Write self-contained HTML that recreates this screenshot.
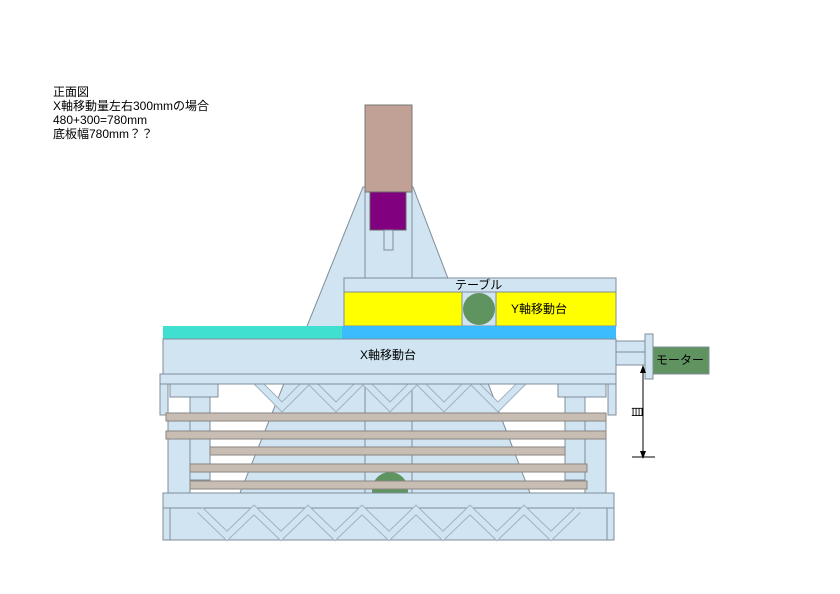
<!DOCTYPE html>
<html><head><meta charset="utf-8"><style>
body{margin:0;background:#fff;width:840px;height:594px;overflow:hidden}
svg{display:block}
text{font-family:"Liberation Sans","Noto Sans CJK JP",sans-serif;font-size:12px;fill:#000}
</style></head><body>
<svg width="840" height="594" viewBox="0 0 840 594">
<defs><clipPath id="c"><rect x="0" y="0" width="840" height="493"/></clipPath></defs>
<g stroke="#7f8c99" stroke-width="1">
<polygon points="363,187 413,187 530,493 240,493" fill="#d0e4f2"/>
<line x1="365" y1="190" x2="365" y2="493"/>
<line x1="412" y1="190" x2="412" y2="493"/>
<rect x="365" y="105" width="47" height="87" fill="#c1a196" stroke="#777"/>
<rect x="370" y="192" width="36" height="38" fill="#800080" stroke="#666"/>
<rect x="384" y="230" width="9" height="20" fill="#d0e4f2"/>
<rect x="344" y="278" width="272" height="14" fill="#d0e4f2"/>
<rect x="344" y="292" width="272" height="34" fill="#ffff00"/>
<rect x="462" y="292" width="34" height="34" fill="#d0e4f2"/>
<circle cx="479" cy="309" r="16" fill="#5f9460" stroke="none"/>
<rect x="163" y="326" width="179" height="13" fill="#40e0d0" stroke="none"/>
<rect x="342" y="326" width="274" height="13" fill="#3bbcff" stroke="none"/>
<rect x="163" y="339" width="453" height="35" fill="#d0e4f2"/>
<rect x="616" y="341" width="29" height="11" fill="#d0e4f2"/>
<rect x="616" y="352" width="29" height="13" fill="#d0e4f2"/>
<rect x="645" y="334" width="8" height="45" fill="#d0e4f2"/>
<rect x="653" y="347" width="56" height="27" fill="#5f9460"/>
<polyline points="255,380 282,407 309,380 336,407 363,380 390,407 417,380 444,407 471,380 498,407 525,380" fill="none" stroke="#9fb2c2" stroke-width="8"/>
<polyline points="255,380 282,407 309,380 336,407 363,380 390,407 417,380 444,407 471,380 498,407 525,380" fill="none" stroke="#d0e4f2" stroke-width="6"/>
<rect x="160" y="374" width="456" height="10" fill="#d0e4f2"/>
<rect x="160" y="384" width="8" height="31" fill="#d0e4f2"/>
<rect x="170" y="384" width="48" height="13" fill="#d0e4f2"/>
<rect x="558" y="384" width="48" height="13" fill="#d0e4f2"/>
<rect x="608" y="384" width="8" height="31" fill="#d0e4f2"/>
<circle cx="390" cy="490" r="18" fill="#5f9460" stroke="none" clip-path="url(#c)"/>
<rect x="168" y="415" width="22" height="78" fill="#d0e4f2"/>
<rect x="585" y="415" width="21" height="78" fill="#d0e4f2"/>
<rect x="190" y="397" width="20" height="83" fill="#d0e4f2"/>
<rect x="565" y="397" width="20" height="83" fill="#d0e4f2"/>
<g fill="#c8bdb3" stroke="#8a8580">
<rect x="166" y="413" width="440" height="8"/>
<rect x="166" y="431" width="440" height="8"/>
<rect x="210" y="447" width="355" height="8"/>
<rect x="190" y="464" width="397" height="8"/>
<rect x="190" y="481" width="397" height="8"/>
</g>
<rect x="163" y="493" width="451" height="15" fill="#d0e4f2"/>
<rect x="163" y="508" width="451" height="32" fill="#d0e4f2"/>
<rect x="170" y="508" width="437" height="32" fill="#d0e4f2"/>
<polyline points="200,510 227,536 254,510 281,536 308,510 335,536 362,510 389,536 416,510 443,536 470,510 497,536 524,510 551,536 578,510" fill="none" stroke="#9fb2c2" stroke-width="8"/>
<polyline points="200,510 227,536 254,510 281,536 308,510 335,536 362,510 389,536 416,510 443,536 470,510 497,536 524,510 551,536 578,510" fill="none" stroke="#d0e4f2" stroke-width="6"/>
</g>
<line x1="643" y1="368" x2="643" y2="457" stroke="#000"/>
<polygon points="643,365 640,373 646,373" fill="#000"/>
<polygon points="643,459 640,451 646,451" fill="#000"/>
<line x1="632" y1="457" x2="655" y2="457" stroke="#000"/>
<text x="630" y="415" transform="rotate(90 636 412)" font-size="10">目</text>
<text x="455" y="289">テーブル</text>
<text x="511" y="313">Y軸移動台</text>
<text x="360" y="359">X軸移動台</text>
<text x="656" y="364">モーター</text>
<text x="53" y="96">正面図</text>
<text x="53" y="110">X軸移動量左右300mmの場合</text>
<text x="53" y="124">480+300=780mm</text>
<text x="53" y="138">底板幅780mm？？</text>
</svg>
</body></html>
